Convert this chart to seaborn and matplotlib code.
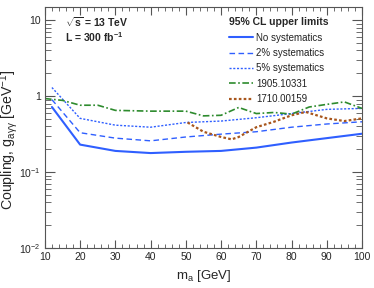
import matplotlib
matplotlib.use("Agg")
import matplotlib.pyplot as plt
import matplotlib.ticker as mticker
import seaborn as sns
import pandas as pd
import numpy as np

# mass points [GeV] and 95% CL upper limits on the coupling [GeV^-1]
mass_proj = [12, 20, 30, 40, 50, 60, 70, 80, 90, 100]
no_syst = [0.72, 0.23, 0.19, 0.178, 0.185, 0.19, 0.21, 0.245, 0.28, 0.32]
syst_2 = [0.90, 0.33, 0.28, 0.258, 0.29, 0.316, 0.34, 0.39, 0.43, 0.46]
syst_5 = [1.30, 0.51, 0.415, 0.39, 0.45, 0.47, 0.52, 0.59, 0.67, 0.69]

mass_1905 = [10, 15, 20, 25, 30, 40, 50, 55, 60, 65, 70, 75, 80, 85, 90, 95, 100]
lim_1905 = [0.93, 0.88, 0.76, 0.76, 0.65, 0.635, 0.635, 0.55, 0.56, 0.71,
            0.59, 0.61, 0.58, 0.72, 0.78, 0.84, 0.69]

mass_1710 = [50.5, 55, 60, 63, 65, 70, 75, 80, 84, 90, 95, 100]
lim_1710 = [0.45, 0.34, 0.29, 0.27, 0.29, 0.39, 0.46, 0.56, 0.62, 0.51, 0.47, 0.51]

sns.set_style("ticks")
plt.rcParams["font.family"] = ["Liberation Sans", "DejaVu Sans"]
plt.rcParams["mathtext.fontset"] = "custom"
plt.rcParams["mathtext.rm"] = "Liberation Sans"
plt.rcParams["mathtext.it"] = "Liberation Sans:italic"
plt.rcParams["mathtext.bf"] = "Liberation Sans:bold"

fig = plt.figure(figsize=(3.74, 2.88), dpi=100)
ax = fig.add_axes([0.120, 0.139, 0.848, 0.837])

blue = "#2f5fff"
series = [
    (mass_proj, no_syst, "No systematics", blue, "-", 1.5),
    (mass_proj, syst_2, "2% systematics", blue, (0, (4, 2.5)), 1.0),
    (mass_proj, syst_5, "5% systematics", blue, (0, (1.5, 1.2)), 1.0),
    (mass_1905, lim_1905, "1905.10331", "#2e8b2e", (0, (4, 1.5, 1, 1.5)), 1.2),
    (mass_1710, lim_1710, "1710.00159", "#a8561c", (0, (1.2, 1.0)), 1.6),
]

for x, y, label, color, ls, lw in series:
    df = pd.DataFrame({"m": x, "g": y})
    sns.lineplot(data=df, x="m", y="g", ax=ax, color=color, linestyle=ls,
                 linewidth=lw, label=label)

ax.set_yscale("log")
ax.set_xlim(10, 100)
ax.set_ylim(0.01, 15)

ax.xaxis.set_major_locator(mticker.MultipleLocator(10))
ax.xaxis.set_minor_locator(mticker.MultipleLocator(2))
ax.yaxis.set_major_locator(mticker.LogLocator(base=10, numticks=10))
ax.yaxis.set_minor_locator(mticker.LogLocator(base=10, subs=np.arange(2, 10), numticks=10))
ax.yaxis.set_minor_formatter(mticker.NullFormatter())


def yfmt(v, pos):
    e = int(round(np.log10(v)))
    if e == 0:
        return "1"
    if e == 1:
        return "10"
    return r"$10^{%d}$" % e


ax.yaxis.set_major_formatter(mticker.FuncFormatter(yfmt))

ax.tick_params(which="both", direction="in", top=True, right=True,
               color="#555555", labelsize=7.5, pad=3)
ax.tick_params(which="major", axis="y", length=7)
ax.tick_params(which="minor", axis="y", length=4)
ax.tick_params(which="major", axis="x", length=6)
ax.tick_params(which="minor", axis="x", length=3)
for s in ax.spines.values():
    s.set_color("#555555")
    s.set_linewidth(0.8)

ax.set_xlabel(r"m$_{\mathregular{a}}$ [GeV]", fontsize=9.5, labelpad=4)
ax.set_ylabel(r"Coupling, g$_{\mathregular{a\gamma\gamma}}$ [GeV$^{\mathregular{-1}}$]",
              fontsize=10.2)
ax.yaxis.set_label_coords(-0.078, 0.45)

ax.text(0.065, 0.935, r"$\mathbf{\sqrt{s}}$ = 13 TeV", transform=ax.transAxes,
        fontsize=7.5, fontweight="bold", ha="left", va="center")
ax.text(0.065, 0.875, r"L = 300 fb$^{\mathbf{-1}}$", transform=ax.transAxes,
        fontsize=7.5, fontweight="bold", ha="left", va="center")

leg = ax.legend(loc="upper left", bbox_to_anchor=(0.56, 0.985), frameon=False,
                fontsize=7, title="95% CL upper limits", handlelength=2.4,
                handletextpad=0.35, labelspacing=0.55, borderpad=0.2)
leg.get_title().set_fontweight("bold")
leg.get_title().set_fontsize(7.5)
leg._legend_box.align = "left"
for t in leg.get_texts():
    t.set_color("#222222")

fig.savefig("out.png", dpi=100)
